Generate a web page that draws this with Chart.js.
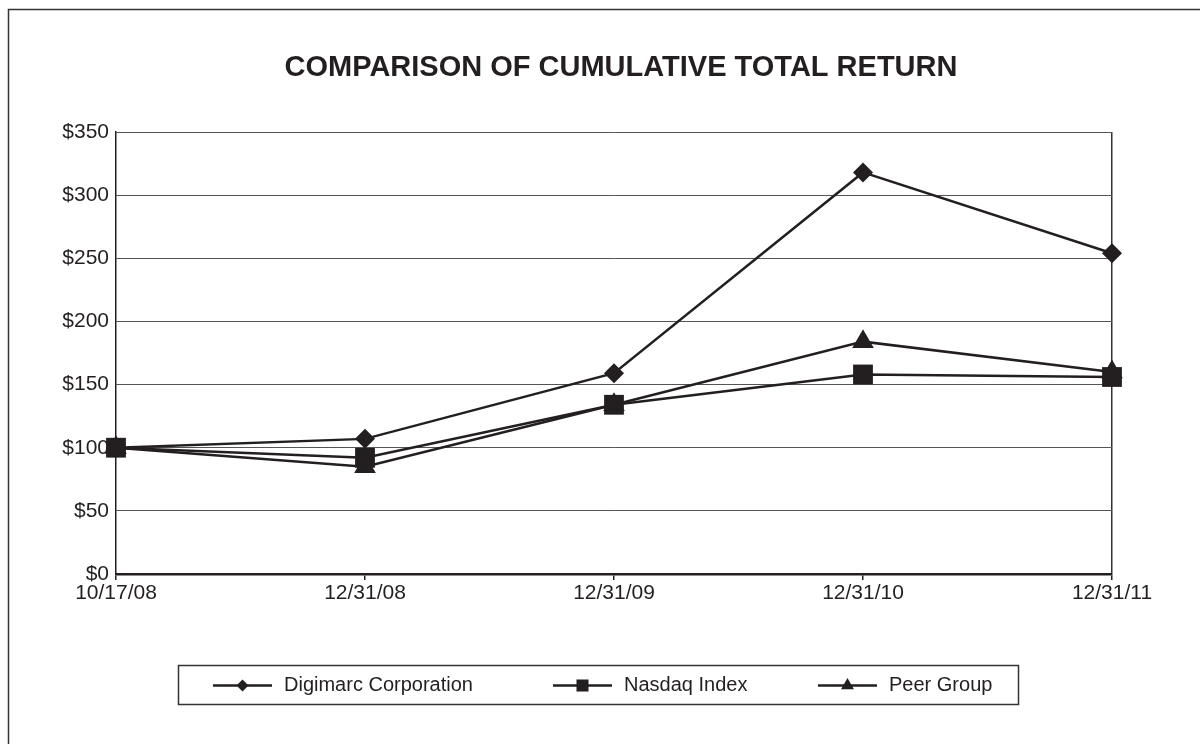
<!DOCTYPE html>
<html>
<head>
<meta charset="utf-8">
<script src="https://cdn.jsdelivr.net/npm/chart.js@4.4.1/dist/chart.umd.min.js"></script>
<style>
  html, body { margin: 0; padding: 0; background: #fff; }
  #wrap { width: 1200px; height: 744px; }
</style>
</head>
<body>
<div id="wrap"><canvas id="c" width="1200" height="744"></canvas></div>
<script>
const chartTitle = 'COMPARISON OF CUMULATIVE TOTAL RETURN';
const categories = ['10/17/08', '12/31/08', '12/31/09', '12/31/10', '12/31/11'];
const seriesNames = ['Digimarc Corporation', 'Nasdaq Index', 'Peer Group'];
const digimarcValues = [100, 107, 159, 318, 254];
const nasdaqValues = [100, 92, 134, 158, 156];
const peerValues = [100, 85, 134, 184, 160];
const yMin = 0, yMax = 350, yStep = 50;

const INK = '#231f20';
const FONT = '"Liberation Sans", Arial, Helvetica, sans-serif';

function drawMarker(ctx, style, x, y, r) {
  ctx.beginPath();
  if (style === 'rectRot') {
    ctx.moveTo(x, y - r); ctx.lineTo(x + r, y); ctx.lineTo(x, y + r); ctx.lineTo(x - r, y);
  } else if (style === 'rect') {
    const s = r * Math.SQRT1_2;
    ctx.rect(x - s, y - s, 2 * s, 2 * s);
  } else if (style === 'triangle') {
    ctx.moveTo(x, y - r);
    ctx.lineTo(x + r * Math.cos(Math.PI / 6), y + r / 2);
    ctx.lineTo(x - r * Math.cos(Math.PI / 6), y + r / 2);
  }
  ctx.closePath();
  ctx.fill();
}

const framePlugin = {
  id: 'frameAndExtras',
  beforeDraw(chart) {
    const ctx = chart.ctx;
    ctx.save();
    ctx.fillStyle = '#fff';
    ctx.fillRect(0, 0, chart.width, chart.height);
    ctx.strokeStyle = '#333';
    ctx.lineWidth = 1.5;
    ctx.beginPath();
    ctx.moveTo(8.5, chart.height + 5);
    ctx.lineTo(8.5, 9.5);
    ctx.lineTo(chart.width + 5, 9.5);
    ctx.stroke();
    ctx.restore();
  },
  afterDraw(chart) {
    const ctx = chart.ctx;
    ctx.save();
    // Title
    ctx.fillStyle = INK;
    ctx.font = 'bold 29px ' + FONT;
    ctx.textAlign = 'center';
    ctx.textBaseline = 'alphabetic';
    ctx.fillText(chartTitle, 621, 76);

    // Legend
    const boxL = 178, boxT = 665, boxR = 1018, boxB = 704;
    ctx.strokeStyle = '#333';
    ctx.lineWidth = 1.5;
    ctx.strokeRect(boxL + 0.5, boxT + 0.5, boxR - boxL, boxB - boxT);
    const midY = (boxT + boxB) / 2 + 1;
    const itemX = [213, 553, 818];
    const markerR = [6, 8.5, 7.5];
    ctx.font = '20px ' + FONT;
    ctx.textAlign = 'left';
    ctx.textBaseline = 'middle';
    chart.data.datasets.forEach((ds, i) => {
      const x0 = itemX[i];
      ctx.strokeStyle = INK;
      ctx.lineWidth = 2.5;
      ctx.beginPath();
      ctx.moveTo(x0, midY);
      ctx.lineTo(x0 + 59, midY);
      ctx.stroke();
      ctx.fillStyle = INK;
      drawMarker(ctx, ds.pointStyle, x0 + 29.5, midY, markerR[i]);
      ctx.fillText(ds.label, x0 + 71, midY);
    });
    ctx.restore();
  }
};

const datasets = [
  { label: seriesNames[0], data: digimarcValues, pointStyle: 'rectRot', pointRadius: 10 },
  { label: seriesNames[1], data: nasdaqValues, pointStyle: 'rect', pointRadius: 14 },
  { label: seriesNames[2], data: peerValues, pointStyle: 'triangle', pointRadius: 12.5 }
].map(d => Object.assign({
  borderColor: INK,
  backgroundColor: INK,
  pointBackgroundColor: INK,
  pointBorderColor: INK,
  pointBorderWidth: 0,
  pointHoverRadius: d.pointRadius,
  borderWidth: 2.5,
  tension: 0,
  fill: false
}, d));

new Chart(document.getElementById('c'), {
  type: 'line',
  data: { labels: categories, datasets },
  options: {
    responsive: false,
    animation: false,
    devicePixelRatio: 1,
    layout: { padding: { left: 0, top: 132, right: 88, bottom: 0 } },
    plugins: {
      legend: { display: false },
      title: { display: false },
      tooltip: { enabled: false }
    },
    scales: {
      x: {
        offset: false,
        afterFit(scale) { scale.height = 170; },
        grid: {
          drawOnChartArea: true,
          drawTicks: true,
          tickLength: 6,
          color: (c) => (c.index === categories.length - 1 ? '#333' : 'rgba(0,0,0,0)'),
          tickColor: INK,
          lineWidth: 1.5
        },
        border: { display: true, color: INK, width: 2.5 },
        ticks: {
          color: INK,
          font: { family: FONT, size: 21 },
          padding: 1,
          maxRotation: 0,
          autoSkip: false
        }
      },
      y: {
        min: yMin,
        max: yMax,
        afterFit(scale) { scale.width = 116; },
        grid: {
          drawTicks: false,
          color: '#555',
          lineWidth: 1
        },
        border: { display: true, color: INK, width: 1.5 },
        ticks: {
          stepSize: yStep,
          color: INK,
          font: { family: FONT, size: 21 },
          padding: 7,
          callback: (v) => '$' + v
        }
      }
    }
  },
  plugins: [framePlugin]
});
</script>
</body>
</html>
